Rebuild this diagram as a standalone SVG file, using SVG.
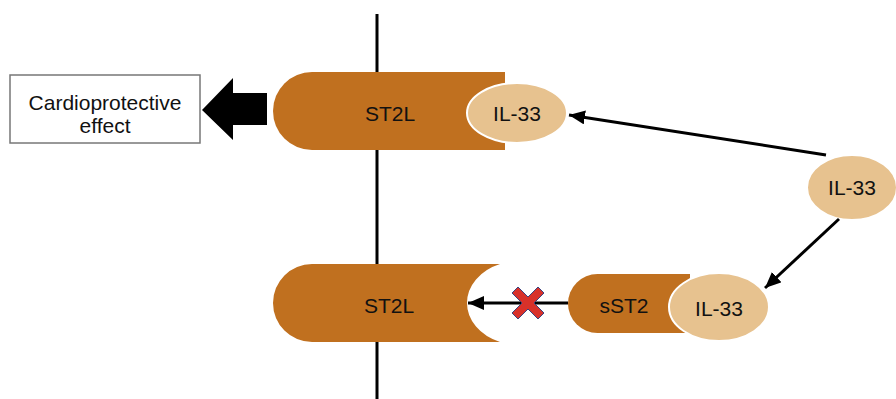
<svg xmlns="http://www.w3.org/2000/svg" width="896" height="399" viewBox="0 0 896 399">
  <defs>
    <marker id="ah" markerUnits="userSpaceOnUse" markerWidth="18" markerHeight="14" refX="16" refY="7" orient="auto">
      <path d="M0,0 L16,7 L0,14 Z" fill="#000"/>
    </marker>
    <style>
      .lbl { font-family: "Liberation Sans", Arial, sans-serif; font-size: 21px; fill: #111; text-anchor: middle; }
      .orange { fill: #C0701F; }
      .tan { fill: #E7C28F; stroke: #fff; stroke-width: 2; }
      .conn { stroke: #000; stroke-width: 3; fill: none; }
    </style>
  </defs>
  <rect width="896" height="399" fill="#fff"/>

  <g id="membrane">
    <line x1="377" y1="14" x2="377" y2="399" stroke="#000" stroke-width="3"/>
  </g>

  <g id="cardio-box">
    <rect x="10" y="75" width="190" height="68" fill="#fff" stroke="#777" stroke-width="1.5"/>
    <text class="lbl" x="105" y="110">Cardioprotective</text>
    <text class="lbl" x="105" y="133">effect</text>
  </g>

  <g id="block-arrow">
    <path d="M202,110 L233,78 L233,93 L267,93 L267,125 L233,125 L233,140 Z" fill="#000"/>
  </g>

  <g id="st2l-top">
    <path class="orange" d="M312,72 H505 V150 H312 A39 39 0 0 1 312 72 Z"/>
    <text class="lbl" x="390" y="121">ST2L</text>
  </g>

  <g id="il33-top">
    <ellipse class="tan" cx="517" cy="113" rx="50" ry="30"/>
    <text class="lbl" x="517" y="121">IL-33</text>
  </g>

  <g id="il33-free">
    <ellipse class="tan" cx="852" cy="187.5" rx="45" ry="32.5"/>
    <text class="lbl" x="852" y="195">IL-33</text>
  </g>

  <g id="st2l-bottom">
    <path class="orange" d="M312,264 H500 A52.5 42 0 0 0 500 342 H312 A39 39 0 0 1 312 264 Z"/>
    <text class="lbl" x="389" y="313">ST2L</text>
  </g>

  <g id="sst2">
    <path class="orange" d="M597.5,274 H690 V333 H597.5 A29.5 29.5 0 0 1 597.5 274 Z"/>
    <text class="lbl" x="624" y="313">sST2</text>
  </g>

  <g id="il33-bound">
    <ellipse class="tan" cx="719" cy="307" rx="50" ry="34"/>
    <text class="lbl" x="719" y="316">IL-33</text>
  </g>

  <g id="connectors">
    <line class="conn" x1="826" y1="155" x2="569" y2="115" marker-end="url(#ah)"/>
    <line class="conn" x1="839" y1="219" x2="765" y2="288" marker-end="url(#ah)"/>
    <line class="conn" x1="568" y1="303" x2="468" y2="303" marker-end="url(#ah)"/>
  </g>

  <g id="block-x">
    <g transform="translate(528 303)" fill="#D8312A" stroke="#3B4380" stroke-width="1">
      <path d="M-16,-10 L-10,-16 L0,-6 L10,-16 L16,-10 L6,0 L16,10 L10,16 L0,6 L-10,16 L-16,10 L-6,0 Z"/>
    </g>
  </g>
</svg>
